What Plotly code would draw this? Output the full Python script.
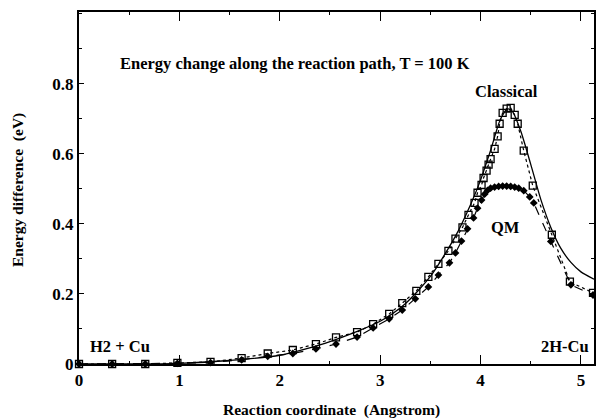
import plotly.graph_objects as go

# Classical (MC) data points - open squares with dotted line
cl_x = [0, 0.33, 0.66, 0.98, 1.31, 1.62, 1.88, 2.13, 2.36, 2.56, 2.77, 2.93, 3.09, 3.22,
        3.36, 3.48, 3.58, 3.68, 3.75, 3.82, 3.88, 3.94, 3.97, 4.01, 4.03, 4.06, 4.08, 4.10,
        4.14, 4.17, 4.19, 4.22, 4.26, 4.30, 4.34, 4.37, 4.43, 4.52, 4.71, 4.89, 5.12]
cl_y = [0, 0, 0, 0.003, 0.006, 0.017, 0.03, 0.04, 0.057, 0.076, 0.091, 0.114, 0.143, 0.174,
        0.209, 0.249, 0.286, 0.323, 0.358, 0.39, 0.426, 0.46, 0.489, 0.511, 0.531, 0.552, 0.569, 0.585,
        0.614, 0.65, 0.686, 0.717, 0.729, 0.731, 0.711, 0.686, 0.609, 0.509, 0.369, 0.235, 0.203]

# QM data points - filled markers with dashed line
qm_x = [0, 0.33, 0.66, 0.98, 1.31, 1.62, 1.88, 2.13, 2.36, 2.56, 2.77, 2.93, 3.09, 3.22,
        3.35, 3.48, 3.58, 3.69, 3.75, 3.81, 3.87, 3.93, 3.97, 4.01, 4.04, 4.07, 4.10, 4.14,
        4.18, 4.22, 4.26, 4.30, 4.34, 4.38, 4.43, 4.49, 4.53, 4.70, 4.90, 5.12]
qm_y = [0, 0, 0, 0.002, 0.004, 0.012, 0.022, 0.03, 0.043, 0.057, 0.077, 0.103, 0.129, 0.154,
        0.186, 0.22, 0.254, 0.289, 0.317, 0.351, 0.386, 0.417, 0.445, 0.468, 0.485, 0.496, 0.502, 0.505,
        0.507, 0.508, 0.508, 0.507, 0.505, 0.502, 0.495, 0.477, 0.46, 0.35, 0.226, 0.197]

# Classical smooth curve - solid line
sol_x = [0, 0.5, 1.0, 1.5, 2.0, 2.5, 3.0, 3.25, 3.5, 3.75, 3.9, 4.0, 4.1, 4.2, 4.27,
         4.32, 4.4, 4.5, 4.6, 4.7, 4.8, 4.9, 5.0, 5.13]
sol_y = [0, 0.0, 0.002, 0.01, 0.025, 0.064, 0.122, 0.172, 0.25, 0.365, 0.455, 0.525, 0.61, 0.70, 0.728,
         0.72, 0.665, 0.57, 0.47, 0.39, 0.33, 0.29, 0.263, 0.242]

x_ticks = [0, 1, 2, 3, 4, 5]
y_ticks = [0, 0.2, 0.4, 0.6, 0.8]
y_tick_labels = ["0", "0.2", "0.4", "0.6", "0.8"]

FONT = "Liberation Serif"

fig = go.Figure()
fig.add_trace(go.Scatter(x=sol_x, y=sol_y, mode="lines",
                         line=dict(color="black", width=1.3, shape="spline", smoothing=0.7),
                         showlegend=False, cliponaxis=True))
fig.add_trace(go.Scatter(x=cl_x, y=cl_y, mode="lines+markers",
                         line=dict(color="black", width=1.2, dash="dot"),
                         marker=dict(symbol="square-open", size=7, color="black", line=dict(width=1.3)),
                         showlegend=False, cliponaxis=False))
fig.add_trace(go.Scatter(x=qm_x, y=qm_y, mode="lines+markers",
                         line=dict(color="black", width=1.2, dash="dash"),
                         marker=dict(symbol="diamond", size=6, color="black"),
                         showlegend=False, cliponaxis=False))

annots = [
    dict(x=0.39, y=0.857, text="Energy change along the reaction path, T = 100 K", xanchor="left"),
    dict(x=4.26, y=0.777, text="Classical", xanchor="center"),
    dict(x=4.25, y=0.391, text="QM", xanchor="center"),
    dict(x=0.41, y=0.05, text="H2 + Cu", xanchor="center"),
    dict(x=4.84, y=0.05, text="2H-Cu", xanchor="center"),
]
for a in annots:
    fig.add_annotation(x=a["x"], y=a["y"], text="<b>" + a["text"] + "</b>", showarrow=False,
                       xanchor=a["xanchor"], yanchor="middle",
                       font=dict(family=FONT, size=16.5, color="black"))

# Axis titles as paper-positioned annotations
fig.add_annotation(xref="paper", yref="paper", x=0.49, y=-0.132, yanchor="middle", xanchor="center",
                   text="<b>Reaction coordinate\u00a0\u00a0(Angstrom)</b>", showarrow=False,
                   font=dict(family=FONT, size=15.5, color="black"))
fig.add_annotation(xref="paper", yref="paper", x=-0.118, y=0.495, yanchor="middle", xanchor="center",
                   text="<b>Energy difference\u00a0\u00a0(eV)</b>", showarrow=False, textangle=-90,
                   font=dict(family=FONT, size=15.5, color="black"))

fig.update_xaxes(range=[0, 5.13], tickvals=x_ticks, ticktext=[f"<b>{v}</b>" for v in x_ticks],
                 ticks="inside", ticklen=9, tickwidth=1, tickcolor="black",
                 showline=True, linecolor="black", linewidth=2, mirror="ticks",
                 showgrid=False, zeroline=False, automargin=False,
                 minor=dict(dtick=0.5, ticks="inside", ticklen=3, tickcolor="black"),
                 tickfont=dict(family=FONT, size=17, color="black"))
fig.update_yaxes(range=[0, 1.005], tickvals=y_ticks, ticktext=[f"<b>{t}</b>" for t in y_tick_labels],
                 ticks="inside", ticklen=5, tickwidth=1, tickcolor="black",
                 showline=True, linecolor="black", linewidth=2, mirror="ticks",
                 showgrid=False, zeroline=False, automargin=False,
                 minor=dict(dtick=0.1, ticks="inside", ticklen=3, tickcolor="black"),
                 tickfont=dict(family=FONT, size=17, color="black"))

fig.update_layout(width=596, height=419, margin=dict(l=79, r=2, t=12, b=55, autoexpand=False),
                  plot_bgcolor="white", paper_bgcolor="white")

fig.write_html("out.html", config={"displayModeBar": False},
               post_script="document.body.style.margin='0';document.body.style.padding='0';document.body.style.overflow='hidden';")
